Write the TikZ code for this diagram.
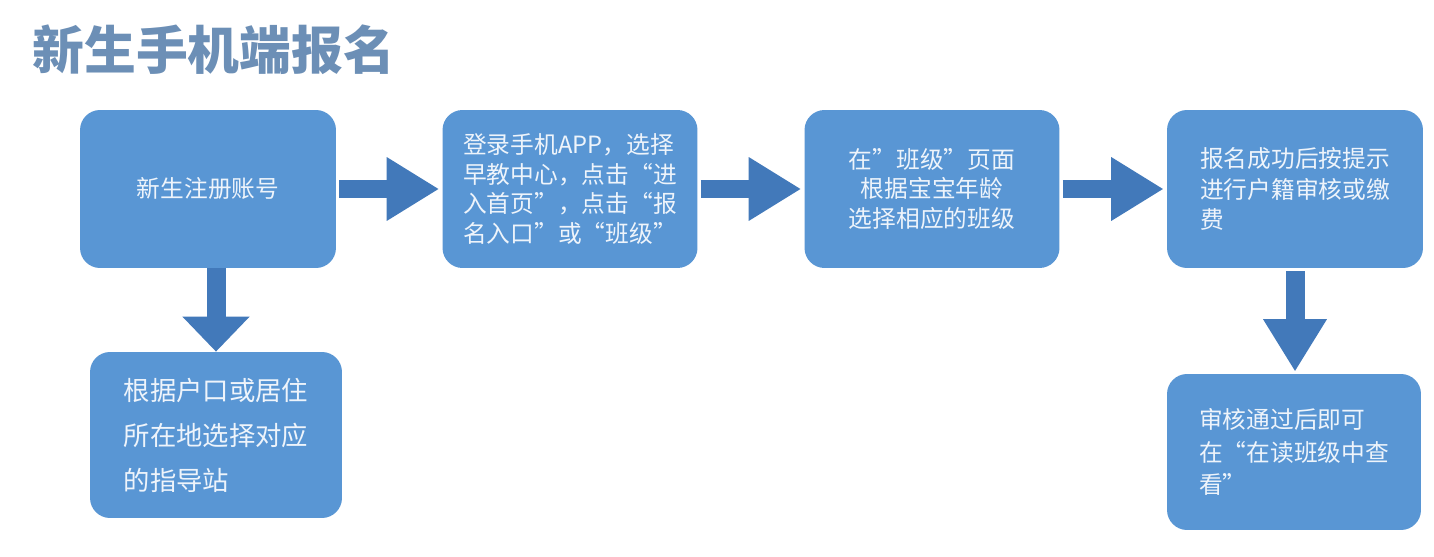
\documentclass[tikz,border=0pt]{standalone}
\usepackage{fontspec}
\usepackage{xcolor}
\setmainfont{Noto Sans CJK SC}
\usetikzlibrary{arrows.meta}
\definecolor{boxblue}{HTML}{5996D4}
\definecolor{arrowblue}{HTML}{4279BA}
\definecolor{titleblue}{HTML}{6C8FB6}
\definecolor{boxtext}{HTML}{EEF4FB}
\tikzset{
	title/.style={font=\fontsize{29.5pt}{32pt}\selectfont\bfseries,text=titleblue,inner sep=0pt},%
	stepbox/.style={rectangle,rounded corners=0.4cm,fill=boxblue,text=boxtext,inner sep=0pt,minimum width=5.12cm,minimum height=3.16cm},%
	blockarrow/.style={arrowblue,line width=0.38cm,-{Triangle[length=1.05cm,width=1.2cm]},shorten <=0.06cm,shorten >=0.06cm},%
}

\begin{document}
\begin{tikzpicture}[x=0.02cm,y=-0.02cm]
		\useasboundingbox[fill=white] (0,0) rectangle (1434,557);
		% Title {{{
		\node[title,anchor=west] (title) at (32,50) {新生手机端报名};
		% }}}
		% Top row {{{
		\node[stepbox,font=\fontsize{13.5pt}{17pt}\selectfont] (register) at (208,189) {新生注册账号};
		\node[stepbox,align=left,minimum width=5.1cm,font=\fontsize{13.5pt}{17pt}\selectfont] (login) at (570,189) {登录手机APP，选择\\早教中心，点击“进\\入首页”，点击“报\\名入口”或“班级”};
		\node[stepbox,align=center,minimum width=5.1cm,font=\fontsize{13.5pt}{17pt}\selectfont] (classpage) at (932,189) {在”班级”页面\\根据宝宝年龄\\选择相应的班级};
		\node[stepbox,align=left,font=\fontsize{13.5pt}{17.6pt}\selectfont] (result) at (1295,189) {报名成功后按提示\\进行户籍审核或缴\\费};
		% }}}
		% Bottom row {{{
		\node[stepbox,align=left,minimum width=5.04cm,minimum height=3.32cm,font=\fontsize{15pt}{25.6pt}\selectfont] (station) at (216,435) {根据户口或居住\\所在地选择对应\\的指导站};
		\node[stepbox,align=left,minimum width=5.08cm,minimum height=3.12cm,font=\fontsize{13.5pt}{18.5pt}\selectfont] (review) at (1294,452) {审核通过后即可\\在“在读班级中查\\看”};
		% }}}
		\draw[blockarrow] (register) -- (login);
		\draw[blockarrow] (login) -- (classpage);
		\draw[blockarrow] (classpage) -- (result);
		\draw[blockarrow,shorten <=0cm,shorten >=0cm,-{Triangle[length=0.7cm,width=1.3cm]}] (register.south -| station.north) -- (station.north);
		\draw[blockarrow,shorten >=0.04cm] (result.south) -- (result.south |- review.north);
	\end{tikzpicture}
\end{document}
